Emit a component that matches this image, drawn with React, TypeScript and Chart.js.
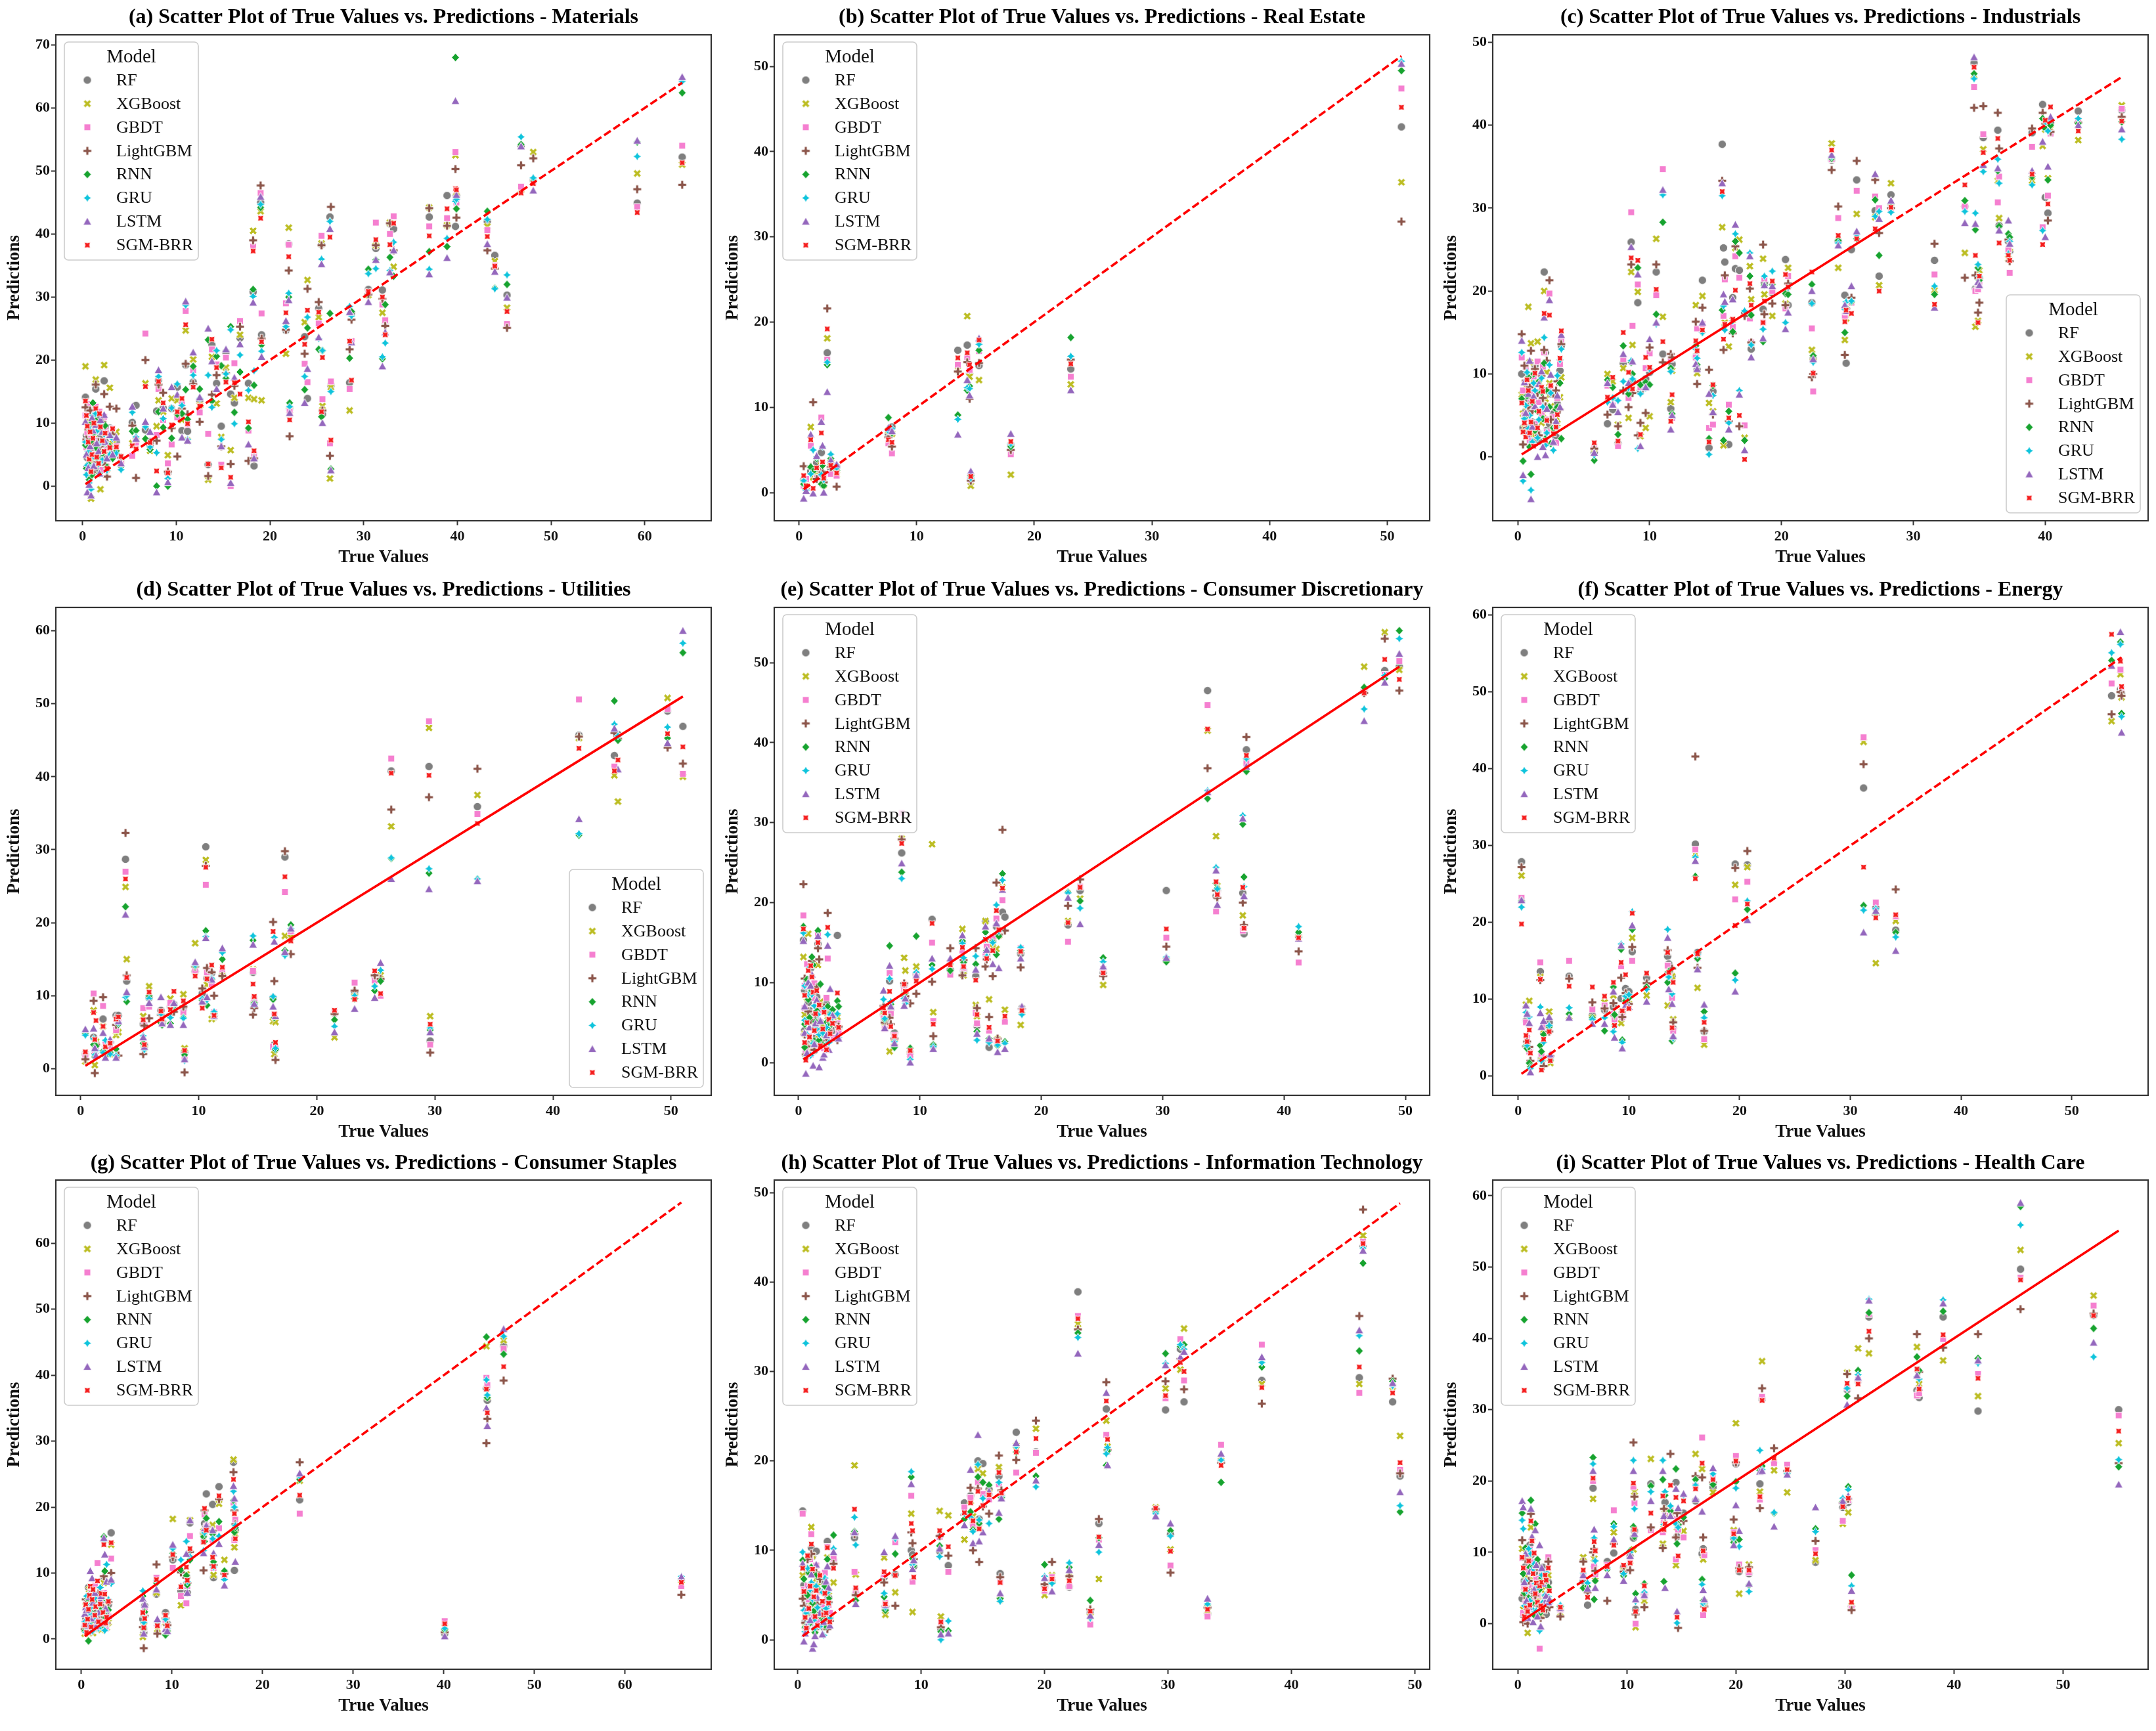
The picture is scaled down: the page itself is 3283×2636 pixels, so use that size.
import React, { useEffect, useRef } from 'react';
import { Chart, registerables } from 'chart.js';

Chart.register(...registerables);

// ---------------- data ----------------
const MODELS = ['RF', 'XGBoost', 'GBDT', 'LightGBM', 'RNN', 'GRU', 'LSTM', 'SGM-BRR'];
const COLORS = ['#7f7f7f', '#bcbd22', '#f57fd0', '#8c564b', '#17a32f', '#0fc4dc', '#9467bd', '#f51d1d'];
const SHAPES = ['circle', 'xfill', 'square', 'plusfill', 'diamond', 'star4', 'triangle', 'star4x'];

const LETTERS = ['a', 'b', 'c', 'd', 'e', 'f', 'g', 'h', 'i'];
const SECTORS = ['Materials', 'Real Estate', 'Industrials', 'Utilities', 'Consumer Discretionary', 'Energy', 'Consumer Staples', 'Information Technology', 'Health Care'];
const X_RANGES = [[-2.86, 67.1], [-2.1, 53.6], [-1.9, 47.8], [-2.1, 53.4], [-2.0, 52.0], [-2.3, 56.9], [-2.8, 69.5], [-1.9, 51.2], [-2.3, 57.8]];
const Y_RANGES = [[-5.5, 71.6], [-3.3, 53.7], [-7.7, 50.9], [-3.65, 63.2], [-4.1, 56.9], [-2.5, 61.0], [-4.6, 69.6], [-3.3, 51.4], [-6.4, 62.2]];
const TICK_STEP = 10;
const LEGEND_POS = ['ul', 'ul', 'lr', 'lr', 'ul', 'ul', 'ul', 'ul', 'ul'];
// true-value spans where the y = x reference line looks solid (elsewhere dashed)
const SOLID_SPANS = [[], [], [[0, 28]], [[0, 70]], [[0, 70]], [], [[0, 17]], [], [[0, 2], [7, 70]]];

// rows: [true, RF, XGBoost, GBDT, LightGBM, RNN, GRU, LSTM, SGM-BRR]
const materialsRows = [
  [0.3, 14.1, 19.0, 11.2, 12.5, 6.5, 7.0, 10.2, 13.5],
  [0.4, 8.0, 10.5, 6.2, 7.4, 2.8, 1.8, 5.0, 11.2],
  [0.5, 4.5, 6.0, 8.5, 3.0, 5.0, 3.3, -1.0, 9.5],
  [0.6, 11.8, 2.5, 13.0, 9.0, 3.5, 5.5, 2.9, 7.0],
  [0.7, 2.0, 3.0, 4.8, 1.5, 1.0, 0.5, 0.2, 4.3],
  [0.8, 3.2, 5.1, 1.9, 12.0, 9.8, 9.0, 6.3, 8.6],
  [0.9, 6.5, -2.0, 7.5, 5.8, 7.2, -0.5, -1.5, 2.3],
  [1.0, 5.4, 4.0, 9.6, 2.2, 1.8, 2.9, 10.8, 5.0],
  [1.1, 9.0, 8.0, 10.5, 9.5, 13.2, 11.2, 8.8, 7.6],
  [1.2, 12.0, 7.5, 5.0, 6.6, 8.4, 4.6, 3.2, 10.0],
  [1.4, 15.4, 16.9, 12.6, 16.1, 10.4, 11.5, 9.7, 12.3],
  [1.5, 2.6, 9.8, 7.2, 3.8, 6.0, 8.7, 6.8, 4.6],
  [1.7, 5.0, 6.3, 3.8, 7.0, 4.2, 3.5, 5.5, 3.6],
  [1.8, 10.6, 3.5, 11.8, 8.9, 2.0, 10.0, 2.0, 11.5],
  [1.9, 7.8, -0.5, 9.3, 6.3, 8.7, 6.8, 10.5, 9.4],
  [2.1, 4.0, 6.9, 2.6, 10.2, 5.2, 4.1, 8.6, 7.2],
  [2.3, 16.7, 19.2, 11.0, 14.6, 6.9, 8.2, 11.3, 5.5],
  [2.4, 7.1, 5.3, 8.8, 3.4, 9.6, 6.9, 7.0, 8.4],
  [2.6, 4.8, 2.7, 6.0, 1.5, 3.0, 2.5, 4.4, 2.8],
  [2.9, 9.2, 15.6, 8.4, 12.6, 6.3, 5.0, 8.1, 6.1],
  [3.2, 5.9, 6.7, 9.1, 8.2, 4.4, 7.5, 5.0, 9.1],
  [3.6, 7.0, 8.6, 6.3, 12.3, 5.6, 5.2, 7.7, 6.2],
  [4.1, 3.8, 4.2, 3.5, 4.5, 3.1, 2.6, 3.6, 4.7],
  [5.3, 10.1, 6.8, 4.8, 9.6, 8.7, 11.7, 12.6, 6.4],
  [5.7, 12.8, 7.2, 6.9, 1.3, 8.8, 7.8, 7.5, 5.9],
  [6.7, 8.9, 16.3, 24.2, 20.0, 7.5, 9.4, 10.2, 15.8],
  [7.2, 6.5, 5.6, 7.2, 6.9, 5.8, 6.2, 8.6, 6.9],
  [7.9, 11.9, 9.5, 8.1, 7.2, 0.0, 5.3, -1.0, 2.4],
  [8.1, 16.8, 13.6, 15.4, 16.1, 11.8, 17.4, 18.4, 16.6],
  [8.6, 12.4, 11.8, 10.5, 14.8, 9.3, 10.7, 12.3, 13.2],
  [9.1, 2.1, 4.9, 3.6, 2.3, 0.0, 1.2, 0.6, 2.1],
  [9.5, 12.3, 13.9, 6.6, 9.2, 7.6, 12.4, 15.7, 9.7],
  [10.1, 15.7, 13.6, 10.9, 4.7, 11.4, 16.2, 14.5, 11.8],
  [10.6, 8.8, 10.5, 13.0, 12.3, 11.5, 12.8, 7.7, 13.9],
  [11.0, 19.2, 24.7, 27.8, 19.4, 15.3, 28.7, 29.3, 25.6],
  [11.2, 8.7, 7.2, 9.8, 11.4, 10.6, 7.4, 7.2, 9.9],
  [11.8, 16.5, 20.1, 18.4, 16.2, 19.0, 17.6, 21.2, 15.7],
  [12.5, 13.6, 12.8, 11.7, 10.2, 15.4, 13.9, 14.1, 12.7],
  [13.4, 3.4, 1.0, 8.3, 1.6, 23.2, 17.6, 25.0, 3.5],
  [13.8, 22.4, 20.5, 21.7, 14.5, 13.5, 12.5, 19.8, 23.3],
  [14.3, 16.3, 13.1, 19.3, 17.6, 20.6, 21.5, 15.4, 18.8],
  [14.8, 9.5, 7.8, 3.4, 6.3, 19.1, 7.4, 6.3, 2.9],
  [15.3, 21.2, 18.8, 20.4, 17.9, 17.1, 17.8, 21.7, 16.5],
  [15.8, 14.6, 5.7, 0.0, 3.5, 25.3, 24.8, 0.5, 1.4],
  [16.2, 13.2, 14.0, 19.5, 15.9, 11.7, 9.9, 17.2, 16.4],
  [16.8, 23.5, 24.0, 26.2, 25.3, 18.1, 20.8, 22.5, 14.6],
  [17.7, 16.3, 14.0, 8.8, 4.0, 9.2, 15.2, 6.6, 10.2],
  [18.2, 30.8, 40.5, 38.0, 39.0, 31.2, 30.1, 29.1, 37.3],
  [18.3, 3.2, 13.8, 5.0, 4.4, 16.0, 18.3, 4.4, 5.6],
  [19.0, 45.0, 43.6, 46.5, 47.7, 44.2, 44.7, 45.9, 42.5],
  [19.1, 24.0, 13.6, 27.4, 23.4, 22.4, 21.4, 20.5, 22.9],
  [21.7, 24.7, 21.0, 29.0, 24.8, 25.8, 25.3, 26.2, 27.5],
  [22.0, 38.4, 41.0, 38.3, 34.2, 30.0, 30.6, 29.5, 36.4],
  [22.1, 12.3, 12.0, 11.8, 7.9, 13.2, 12.6, 11.6, 10.5],
  [23.7, 23.7, 26.0, 19.4, 21.0, 15.3, 17.4, 13.2, 22.5],
  [24.0, 13.9, 32.7, 16.5, 31.3, 25.1, 26.8, 18.6, 27.9],
  [25.2, 28.2, 26.8, 25.8, 29.2, 21.7, 23.4, 23.6, 27.6],
  [25.5, 38.3, 38.5, 39.7, 38.2, 11.0, 36.0, 35.2, 11.8],
  [25.6, 11.4, 12.7, 13.8, 12.0, 21.5, 21.5, 10.0, 20.4],
  [26.4, 42.7, 1.2, 6.8, 4.8, 27.4, 42.0, 40.8, 39.5],
  [26.5, 16.0, 15.7, 16.6, 44.3, 2.7, 15.0, 2.5, 7.3],
  [28.5, 16.4, 12.0, 15.4, 21.7, 20.3, 28.5, 27.6, 23.0],
  [28.7, 27.5, 23.0, 23.0, 26.4, 27.7, 27.0, 22.8, 16.8],
  [30.5, 31.2, 30.3, 30.7, 30.4, 34.4, 33.7, 29.2, 30.9],
  [31.3, 37.7, 38.2, 41.8, 38.2, 35.9, 34.5, 35.9, 39.1],
  [32.0, 31.1, 27.5, 28.8, 29.7, 20.2, 20.5, 19.0, 30.0],
  [32.3, 26.0, 26.3, 26.3, 25.4, 28.8, 22.7, 24.4, 24.0],
  [32.8, 41.6, 41.8, 40.0, 41.7, 36.3, 34.2, 33.9, 38.3],
  [33.2, 40.8, 34.8, 42.8, 37.4, 33.3, 38.7, 37.4, 41.7],
  [37.0, 42.7, 44.2, 41.2, 44.1, 37.2, 34.4, 33.6, 39.7],
  [38.9, 46.1, 41.4, 42.5, 41.3, 38.0, 39.3, 36.2, 44.0],
  [39.8, 41.2, 52.5, 53.0, 50.3, 68.0, 45.2, 61.1, 47.2],
  [39.9, 46.1, 46.0, 45.0, 42.6, 44.0, 45.5, 46.2, 47.0],
  [43.2, 42.0, 41.2, 40.6, 37.4, 43.6, 42.3, 38.4, 39.6],
  [44.0, 36.6, 35.7, 35.0, 34.5, 31.4, 31.3, 34.0, 34.9],
  [45.3, 30.3, 28.3, 25.7, 25.1, 32.0, 33.5, 29.9, 27.7],
  [46.8, 54.0, 47.0, 47.5, 50.9, 54.2, 55.4, 53.9, 46.5],
  [48.1, 48.5, 53.0, 48.2, 52.0, 48.4, 48.9, 46.9, 48.0],
  [59.2, 44.9, 49.6, 44.3, 47.1, 54.6, 52.3, 54.8, 43.4],
  [64.0, 52.2, 51.0, 54.0, 47.8, 62.4, 64.2, 64.9, 51.3],
];

const realEstateRows = [
  [0.4, 1.5, 1.2, 0.8, 3.1, 1.0, 1.4, -0.7, 2.0],
  [0.6, 0.5, 0.9, 1.6, 0.4, 0.7, 0.3, 0.2, 0.8],
  [1.0, 2.5, 7.7, 5.5, 3.0, 3.0, 2.2, 6.8, 6.2],
  [1.2, 2.0, 1.8, 2.7, 10.6, 2.5, 5.0, -0.1, 0.5],
  [1.5, 3.5, 2.4, 1.7, 1.6, 4.0, 4.2, 4.3, 2.9],
  [1.9, 4.7, 3.2, 8.8, 2.5, 1.0, 2.1, 8.3, 7.0],
  [2.0, 2.2, 1.5, 3.4, 2.4, 3.2, 5.4, 5.5, 3.6],
  [2.1, 1.3, 0.9, 1.8, 1.2, 0.8, 1.5, 0.0, 1.7],
  [2.4, 16.4, 18.1, 15.6, 21.6, 15.0, 15.3, 11.8, 19.2],
  [2.7, 2.8, 3.5, 2.2, 3.0, 4.0, 4.5, 3.8, 3.2],
  [3.2, 3.0, 2.1, 2.0, 0.7, 2.6, 2.9, 3.3, 2.3],
  [7.6, 6.8, 7.3, 5.8, 6.5, 8.8, 7.2, 7.6, 6.2],
  [7.9, 7.7, 6.9, 4.6, 5.4, 7.0, 7.5, 7.2, 5.9],
  [13.5, 16.7, 14.4, 15.0, 14.2, 9.1, 8.6, 6.8, 15.8],
  [14.3, 17.3, 20.7, 15.9, 15.3, 12.0, 12.3, 13.2, 16.4],
  [14.5, 14.0, 13.6, 14.4, 11.0, 12.5, 12.2, 11.4, 15.0],
  [14.6, 1.8, 0.8, 1.5, 1.4, 2.0, 1.7, 2.5, 1.9],
  [15.3, 14.9, 13.2, 16.6, 15.2, 16.7, 17.4, 18.1, 17.9],
  [18.0, 5.6, 2.1, 4.5, 5.0, 5.4, 5.7, 6.9, 6.0],
  [23.1, 14.5, 12.7, 13.6, 15.6, 18.2, 16.0, 12.0, 15.1],
  [51.2, 42.9, 36.4, 47.4, 31.8, 49.5, 50.6, 50.3, 45.2],
];

const industrialsRows = [
  [0.3, 10.0, 7.5, 12.0, 14.8, 7.0, 12.6, 14.0, 6.5],
  [0.4, 3.5, 5.2, 8.0, 1.5, -0.5, -2.9, -2.2, 3.0],
  [0.5, 6.8, 3.5, 5.0, 11.0, 2.9, 4.6, 9.0, 4.1],
  [0.6, 5.5, 8.5, 10.8, 9.2, 4.8, 6.2, 5.3, 2.4],
  [0.7, 2.6, 6.0, 9.2, 3.5, 7.4, 10.2, 2.7, 9.3],
  [0.8, 7.0, 18.1, 4.6, 6.0, 9.6, 3.4, 7.6, 8.0],
  [0.9, 9.5, 11.4, 2.0, 8.4, 1.2, 5.0, 11.6, 2.9],
  [1.0, 2.0, 13.7, 6.5, 12.8, -2.1, -4.0, -5.1, 4.2],
  [1.1, 4.2, 2.7, 7.9, 5.5, 6.6, 1.8, 3.6, 6.7],
  [1.2, 8.8, 9.3, 9.7, 3.8, 10.0, 8.9, 7.3, 1.3],
  [1.3, 11.0, 7.6, 4.0, 10.6, 3.2, 8.0, 6.1, 10.1],
  [1.5, 3.0, 13.9, 11.5, 7.7, 5.5, 2.3, 0.0, 3.5],
  [1.6, 1.9, 9.0, 6.6, 2.6, 9.1, 4.5, 8.8, 5.5],
  [1.8, 6.8, 4.1, 5.2, 9.8, 7.8, 9.5, 10.3, 8.4],
  [1.9, 8.0, 5.2, 10.9, 7.1, 4.6, 6.0, 1.2, 7.9],
  [2.0, 22.3, 20.0, 12.6, 12.9, 11.3, 14.4, 16.8, 17.3],
  [2.1, 12.6, 7.0, 4.5, 6.1, 2.2, 1.4, 0.2, 2.0],
  [2.2, 3.2, 10.2, 3.0, 11.6, 8.0, 2.9, 5.8, 4.4],
  [2.4, 4.0, 8.9, 19.7, 21.3, 6.0, 11.1, 18.9, 17.1],
  [2.5, 7.6, 6.1, 8.3, 4.5, 1.6, 7.7, 9.9, 8.6],
  [2.7, 5.2, 3.4, 4.8, 7.6, 3.5, 0.8, 1.8, 2.8],
  [2.9, 2.4, 4.8, 1.7, 8.0, 5.7, 3.6, 4.3, 3.6],
  [3.0, 6.4, 4.0, 7.1, 9.1, 6.0, 9.8, 7.4, 5.1],
  [3.2, 10.4, 7.2, 11.2, 5.7, 8.9, 11.7, 6.0, 11.9],
  [3.3, 13.4, 9.6, 14.0, 13.6, 2.2, 13.0, 14.7, 15.2],
  [5.8, 0.5, 1.0, 1.2, 1.0, -0.4, 0.2, 0.5, 1.7],
  [6.8, 4.0, 10.0, 8.6, 5.1, 9.3, 6.6, 8.9, 7.2],
  [7.2, 5.7, 9.1, 6.2, 7.0, 8.4, 7.1, 6.3, 9.6],
  [7.6, 1.6, 3.9, 1.3, 3.7, 2.7, 6.8, 5.4, 1.9],
  [8.0, 11.3, 10.7, 11.8, 8.0, 13.4, 9.1, 12.4, 15.0],
  [8.4, 8.3, 4.7, 7.1, 6.0, 7.6, 8.3, 8.9, 10.2],
  [8.6, 25.9, 22.3, 29.5, 23.2, 11.4, 11.6, 25.3, 24.0],
  [8.7, 9.1, 13.5, 15.8, 7.7, 10.0, 9.4, 11.5, 8.2],
  [9.1, 18.6, 19.9, 20.8, 2.6, 22.8, 1.0, 22.0, 23.7],
  [9.3, 8.0, 2.5, 8.4, 4.1, 8.7, 7.6, 1.3, 2.7],
  [9.7, 9.4, 3.5, 10.7, 5.3, 9.0, 8.3, 8.4, 12.0],
  [10.0, 10.2, 4.9, 12.5, 13.2, 8.7, 10.6, 14.2, 10.8],
  [10.5, 22.3, 26.3, 19.5, 23.2, 17.2, 16.0, 16.2, 20.2],
  [11.0, 12.4, 16.9, 34.7, 11.4, 28.3, 31.6, 32.2, 13.9],
  [11.6, 5.8, 6.6, 11.8, 12.4, 10.7, 10.3, 3.3, 4.3],
  [11.7, 11.2, 10.4, 4.7, 12.0, 5.2, 4.8, 5.0, 7.5],
  [13.5, 12.1, 18.3, 12.0, 16.3, 13.4, 13.0, 11.2, 14.0],
  [13.6, 10.5, 10.1, 15.5, 8.8, 11.1, 11.9, 10.6, 12.8],
  [14.0, 21.3, 19.4, 16.0, 18.0, 15.0, 15.0, 16.2, 15.3],
  [14.5, 1.1, 6.5, 3.5, 10.5, 2.2, 0.3, 7.6, 1.8],
  [14.8, 7.9, 5.5, 3.9, 5.1, 8.6, 7.4, 5.4, 8.7],
  [15.5, 37.7, 27.7, 33.0, 33.3, 17.7, 31.5, 33.0, 32.0],
  [15.6, 25.2, 1.4, 17.0, 12.9, 2.0, 18.2, 19.6, 14.2],
  [15.7, 23.5, 16.2, 21.4, 21.9, 15.8, 15.3, 18.7, 16.0],
  [16.0, 1.5, 13.3, 6.3, 4.3, 5.5, 4.1, 3.3, 4.7],
  [16.3, 19.2, 16.5, 15.7, 14.9, 15.1, 16.4, 19.0, 16.6],
  [16.5, 22.7, 25.2, 24.2, 25.4, 26.0, 26.9, 28.0, 20.1],
  [16.8, 22.5, 26.2, 21.6, 3.7, 24.6, 8.0, 7.5, 5.0],
  [17.2, 17.4, 2.3, 3.8, 17.0, 2.0, 17.6, 0.8, -0.3],
  [17.6, 17.1, 23.0, 16.7, 20.3, 21.8, 24.6, 24.2, 20.9],
  [17.7, 13.0, 19.0, 13.8, 13.8, 17.1, 13.5, 12.0, 18.3],
  [18.6, 17.8, 23.9, 16.2, 25.6, 13.9, 15.4, 14.3, 16.2],
  [18.7, 21.0, 19.6, 21.5, 17.2, 20.7, 21.8, 20.7, 18.8],
  [19.3, 19.8, 17.0, 20.0, 18.5, 20.8, 22.4, 20.6, 21.2],
  [20.3, 23.8, 18.5, 17.9, 18.3, 19.7, 16.2, 15.4, 22.0],
  [20.5, 18.3, 22.8, 21.8, 20.9, 19.6, 20.4, 17.4, 20.5],
  [22.3, 18.6, 12.9, 15.5, 9.6, 20.8, 18.5, 20.0, 22.3],
  [22.4, 11.8, 12.0, 7.9, 10.0, 12.2, 11.4, 11.8, 10.1],
  [23.8, 35.8, 37.8, 35.9, 34.6, 36.0, 36.2, 36.4, 37.0],
  [24.3, 26.0, 22.8, 28.8, 30.2, 26.1, 25.8, 25.5, 26.7],
  [24.8, 19.5, 14.1, 17.0, 12.3, 15.0, 17.8, 18.3, 16.3],
  [24.9, 11.3, 16.7, 17.5, 17.9, 18.0, 18.7, 17.6, 17.7],
  [25.3, 25.0, 18.9, 18.6, 19.2, 18.7, 18.8, 20.6, 17.3],
  [25.7, 33.4, 29.3, 32.1, 35.7, 26.3, 26.8, 27.2, 26.3],
  [27.1, 29.7, 28.9, 31.4, 33.4, 31.0, 29.0, 34.1, 27.5],
  [27.4, 21.8, 20.7, 30.0, 27.0, 24.3, 29.6, 28.7, 20.0],
  [28.3, 31.6, 33.0, 29.8, 30.0, 30.4, 29.5, 30.9, 30.1],
  [31.6, 23.7, 20.1, 22.0, 25.7, 19.6, 20.6, 18.0, 18.4],
  [33.9, 30.2, 24.6, 30.2, 21.6, 30.9, 29.6, 28.2, 32.8],
  [34.6, 47.5, 46.0, 44.6, 42.1, 46.2, 45.6, 48.2, 47.0],
  [34.7, 20.3, 15.7, 20.0, 21.9, 27.4, 29.4, 28.1, 24.3],
  [34.9, 20.5, 16.4, 20.2, 17.4, 22.8, 23.2, 21.1, 16.2],
  [35.0, 21.5, 22.5, 21.0, 18.6, 21.3, 21.8, 20.7, 21.8],
  [35.3, 38.5, 37.1, 38.9, 42.3, 35.0, 34.4, 35.2, 36.7],
  [36.4, 39.4, 33.3, 30.7, 41.5, 34.5, 35.9, 34.8, 38.4],
  [36.5, 27.9, 28.8, 33.8, 37.2, 27.8, 33.0, 27.3, 25.8],
  [37.2, 26.0, 23.9, 25.0, 26.2, 26.9, 24.5, 28.5, 24.3],
  [37.3, 24.8, 25.2, 22.2, 23.6, 26.5, 26.0, 25.7, 23.7],
  [39.0, 39.1, 33.3, 37.4, 39.6, 33.8, 32.8, 34.5, 34.1],
  [39.8, 42.5, 37.5, 27.7, 41.5, 40.8, 27.3, 38.0, 25.6],
  [40.0, 31.3, 39.5, 40.0, 40.2, 39.6, 40.4, 26.5, 40.6],
  [40.2, 29.4, 33.6, 31.5, 28.5, 33.4, 39.3, 35.0, 30.5],
  [40.4, 40.3, 39.6, 39.0, 39.2, 40.0, 40.6, 41.0, 42.2],
  [42.5, 41.7, 38.2, 40.6, 40.3, 40.2, 40.8, 40.0, 39.3],
  [45.8, 41.8, 42.4, 42.0, 41.0, 40.4, 38.3, 39.5, 40.5],
];

const utilitiesRows = [
  [0.4, 2.0, 1.0, 1.8, 1.3, 4.8, 4.6, 5.4, 2.3],
  [1.1, 4.3, 8.0, 10.3, 9.3, 3.3, 4.1, 5.5, 7.7],
  [1.2, 2.2, 0.5, 2.6, -0.6, 1.6, 1.9, 2.8, 4.0],
  [1.3, 3.4, 3.7, 3.0, 3.3, 3.1, 2.5, 1.8, 6.6],
  [1.9, 6.8, 5.8, 8.6, 9.8, 2.4, 2.2, 4.9, 5.8],
  [2.1, 3.1, 2.6, 3.3, 2.1, 1.7, 3.9, 1.5, 3.0],
  [2.5, 2.4, 2.0, 2.8, 3.6, 2.2, 2.0, 4.0, 3.5],
  [3.0, 7.3, 4.6, 5.3, 6.0, 2.7, 1.8, 1.5, 6.8],
  [3.2, 7.3, 5.0, 6.5, 1.8, 6.1, 6.3, 6.5, 7.1],
  [3.8, 28.7, 24.9, 27.0, 32.3, 22.2, 9.8, 21.1, 26.0],
  [3.9, 12.0, 15.0, 12.6, 12.8, 9.2, 10.0, 10.5, 12.5],
  [5.3, 6.1, 7.2, 8.3, 2.0, 3.5, 4.5, 4.3, 6.7],
  [5.4, 3.2, 2.8, 6.0, 5.9, 2.9, 2.6, 3.0, 3.3],
  [5.8, 9.7, 11.3, 8.5, 6.9, 10.0, 9.6, 9.0, 10.5],
  [6.8, 8.0, 7.0, 6.5, 7.4, 6.3, 7.5, 9.8, 7.9],
  [6.9, 6.2, 6.8, 7.1, 6.5, 6.0, 6.6, 6.2, 6.8],
  [7.6, 8.5, 9.6, 9.0, 7.4, 6.2, 7.0, 6.0, 8.1],
  [7.9, 8.8, 8.2, 8.1, 7.8, 8.6, 8.8, 9.0, 10.6],
  [8.7, 8.2, 10.2, 7.7, 8.5, 7.0, 6.9, 6.0, 9.3],
  [8.8, 2.2, 2.8, 1.6, -0.5, 1.9, 1.1, 1.3, 2.5],
  [9.7, 13.3, 17.2, 13.5, 14.0, 14.1, 14.2, 14.6, 12.7],
  [10.3, 10.3, 9.1, 9.3, 11.0, 9.4, 9.6, 9.2, 8.3],
  [10.6, 30.4, 28.6, 25.2, 27.8, 18.9, 18.1, 17.9, 27.6],
  [10.7, 12.4, 11.5, 13.2, 13.8, 8.7, 9.4, 9.8, 12.3],
  [11.1, 13.1, 6.8, 11.6, 13.2, 12.2, 12.4, 12.2, 14.2],
  [11.3, 7.3, 7.1, 7.7, 10.0, 7.6, 7.8, 7.2, 7.3],
  [12.0, 12.8, 12.9, 13.6, 12.7, 15.0, 15.9, 16.5, 13.9],
  [14.6, 13.2, 13.6, 13.4, 7.4, 17.6, 18.2, 17.0, 11.6],
  [14.7, 9.1, 9.4, 9.6, 8.3, 9.0, 8.8, 8.9, 9.9],
  [16.3, 9.7, 6.5, 3.0, 20.1, 9.5, 9.9, 8.5, 18.8],
  [16.4, 3.3, 2.0, 7.4, 12.0, 7.0, 18.0, 17.4, 7.5],
  [16.5, 2.7, 6.4, 2.9, 1.2, 2.6, 2.8, 7.2, 3.6],
  [17.3, 29.0, 18.2, 24.2, 29.8, 16.2, 15.5, 16.0, 26.3],
  [17.8, 18.3, 18.0, 18.8, 15.7, 19.7, 19.2, 19.2, 17.5],
  [21.5, 7.6, 4.3, 7.8, 7.5, 6.7, 5.8, 5.0, 8.0],
  [23.2, 10.5, 9.9, 11.8, 10.7, 9.6, 10.0, 8.2, 9.5],
  [24.9, 12.6, 11.6, 12.1, 12.8, 10.7, 11.3, 9.7, 13.4],
  [25.4, 12.3, 12.8, 10.0, 12.3, 12.0, 13.5, 14.5, 10.3],
  [26.3, 40.8, 33.2, 42.5, 35.5, 28.8, 28.9, 26.0, 40.5],
  [29.5, 41.4, 46.7, 47.6, 37.2, 26.8, 27.4, 24.6, 40.2],
  [29.6, 3.8, 7.2, 3.3, 2.2, 5.3, 5.6, 5.0, 6.1],
  [33.6, 35.9, 37.5, 34.9, 41.1, 26.0, 26.0, 25.7, 33.6],
  [42.2, 45.7, 45.3, 50.6, 45.5, 32.0, 32.2, 34.2, 43.9],
  [45.2, 42.9, 40.2, 41.4, 46.0, 50.4, 47.2, 46.6, 40.8],
  [45.5, 45.8, 36.6, 45.5, 45.2, 45.0, 45.6, 41.0, 42.3],
  [49.7, 49.0, 50.8, 49.3, 44.0, 45.3, 46.8, 44.6, 45.9],
  [51.0, 46.9, 40.0, 40.4, 41.8, 57.0, 58.3, 60.0, 44.1],
];

const consumerDiscRows = [
  [0.4, 15.3, 13.2, 18.4, 22.3, 17.0, 16.2, 15.2, 16.7],
  [0.5, 4.0, 6.0, 9.6, 3.5, 4.8, 5.3, 3.7, 2.5],
  [0.5, 9.0, 3.6, 6.8, 10.5, 1.9, 9.6, 7.0, 8.4],
  [0.6, 1.2, 2.0, 1.5, 1.0, 0.8, 0.5, -1.4, 0.3],
  [0.7, 2.3, 8.1, 12.3, 2.0, 10.4, 3.5, 1.2, 5.0],
  [0.8, 7.5, 16.1, 8.2, 6.4, 7.9, 8.5, 10.0, 11.5],
  [0.9, 6.5, 1.5, 3.3, 8.8, 5.6, 11.9, 4.4, 3.2],
  [1.0, 11.8, 9.5, 1.0, 5.3, 8.9, 0.9, 9.6, 12.1],
  [1.1, 9.6, 12.5, 8.1, 12.7, 13.2, 8.5, 11.0, 10.7],
  [1.2, 3.1, 2.6, 5.3, 4.4, 12.2, 2.4, -0.4, 8.8],
  [1.3, 1.5, 5.9, 9.9, 1.6, 2.7, 7.1, 2.3, 4.0],
  [1.4, 5.6, 4.5, 6.2, 6.0, 5.1, 4.6, 4.9, 6.1],
  [1.5, 8.2, 2.2, 3.9, 9.4, 6.5, 4.2, 7.8, 9.0],
  [1.6, 14.8, 12.2, 16.0, 14.3, 16.5, 6.0, 15.8, 15.0],
  [1.7, 2.5, 3.0, 2.1, 12.9, 2.8, 3.5, -0.6, 7.2],
  [1.8, 5.0, 7.6, 6.6, 4.0, 9.8, 2.1, 5.2, 2.1],
  [2.0, 3.6, 4.7, 3.5, 2.8, 2.2, 3.7, 0.6, 4.2],
  [2.1, 2.0, 3.9, 1.8, 6.9, 3.4, 6.6, 1.0, 6.3],
  [2.3, 7.3, 1.7, 8.1, 3.0, 5.0, 4.4, 3.4, 1.6],
  [2.4, 6.1, 5.8, 13.0, 18.7, 7.0, 16.0, 14.6, 16.9],
  [2.5, 3.3, 2.9, 4.1, 4.0, 4.5, 2.5, 1.6, 5.4],
  [2.6, 5.0, 6.0, 5.5, 5.6, 6.1, 6.0, 9.2, 3.6],
  [2.8, 4.0, 6.4, 3.1, 5.1, 6.6, 5.7, 5.9, 4.9],
  [3.2, 15.9, 5.7, 4.9, 2.8, 7.7, 6.1, 3.4, 8.7],
  [3.3, 4.3, 3.8, 3.9, 4.5, 7.0, 3.1, 3.0, 4.4],
  [7.0, 6.0, 6.3, 5.6, 7.1, 6.5, 7.9, 9.0, 6.8],
  [7.1, 4.9, 4.6, 4.2, 5.0, 5.4, 5.5, 4.3, 6.2],
  [7.5, 10.2, 1.4, 11.2, 5.6, 14.6, 10.5, 12.1, 8.9],
  [7.6, 6.7, 7.0, 6.1, 4.8, 7.3, 7.6, 7.0, 4.5],
  [7.9, 3.7, 2.5, 3.4, 3.0, 1.9, 2.6, 2.4, 3.3],
  [8.5, 26.2, 28.0, 31.2, 27.9, 23.8, 23.0, 24.9, 27.4],
  [8.7, 9.5, 13.1, 9.2, 9.9, 8.6, 8.0, 7.1, 9.8],
  [8.8, 8.1, 11.5, 8.8, 8.3, 8.7, 7.4, 8.0, 8.9],
  [9.2, 1.2, 1.0, 0.9, 7.4, 1.8, 0.4, 0.0, 1.5],
  [9.7, 11.0, 12.0, 10.7, 8.6, 15.8, 11.3, 10.9, 10.2],
  [11.0, 17.9, 27.3, 15.0, 10.1, 12.2, 11.7, 13.0, 17.4],
  [11.1, 2.1, 6.3, 5.2, 3.3, 2.2, 2.0, 1.7, 4.8],
  [12.5, 11.6, 12.5, 11.0, 14.3, 11.5, 12.4, 13.0, 12.2],
  [13.5, 15.0, 16.7, 14.0, 10.9, 15.2, 14.9, 15.9, 14.4],
  [13.6, 11.5, 10.9, 11.8, 12.8, 12.5, 13.1, 12.0, 12.0],
  [14.6, 10.8, 7.2, 6.2, 14.3, 12.3, 13.3, 11.6, 10.3],
  [14.7, 4.6, 5.8, 4.9, 6.8, 3.9, 2.8, 3.6, 6.0],
  [15.4, 17.6, 17.7, 13.5, 12.0, 16.3, 15.4, 17.0, 15.4],
  [15.5, 13.4, 14.7, 14.5, 12.9, 14.0, 13.3, 14.1, 13.0],
  [15.7, 1.9, 7.9, 4.0, 5.7, 3.0, 2.5, 3.0, 4.4],
  [16.0, 15.2, 14.4, 15.7, 10.8, 15.1, 15.0, 12.3, 14.0],
  [16.3, 17.0, 14.2, 18.0, 22.5, 13.5, 19.7, 17.4, 19.0],
  [16.4, 2.5, 2.9, 2.4, 3.0, 2.1, 2.2, 1.3, 2.7],
  [16.5, 16.1, 15.9, 16.3, 16.0, 15.8, 16.4, 11.8, 16.6],
  [16.8, 18.8, 21.9, 20.3, 29.1, 23.6, 22.8, 21.6, 21.8],
  [17.0, 18.2, 6.6, 5.1, 16.5, 2.6, 2.4, 1.7, 5.8],
  [18.3, 13.6, 4.7, 14.3, 11.9, 14.0, 14.4, 13.0, 13.9],
  [18.4, 6.8, 6.3, 6.5, 6.7, 6.2, 6.0, 7.0, 6.5],
  [22.2, 17.2, 17.7, 15.1, 19.6, 21.3, 21.2, 20.6, 17.5],
  [23.2, 21.5, 20.5, 22.0, 22.9, 20.2, 19.3, 17.3, 21.9],
  [25.1, 11.3, 9.7, 11.7, 10.8, 13.1, 12.6, 12.0, 11.2],
  [30.3, 21.5, 12.8, 15.6, 14.5, 12.6, 13.2, 13.1, 16.7],
  [33.7, 46.5, 41.5, 44.7, 36.8, 33.0, 34.0, 33.8, 41.7],
  [34.4, 20.8, 28.3, 18.9, 21.5, 22.4, 24.4, 24.0, 22.6],
  [34.5, 21.5, 22.1, 21.3, 20.6, 21.8, 21.7, 19.7, 21.0],
  [36.6, 21.2, 18.4, 16.5, 20.0, 29.8, 30.9, 30.5, 21.9],
  [36.7, 16.1, 17.0, 16.8, 17.2, 23.2, 22.0, 20.8, 16.8],
  [36.9, 39.1, 37.6, 37.4, 40.7, 36.4, 38.0, 37.0, 38.4],
  [41.2, 15.8, 16.1, 12.5, 13.9, 16.3, 17.0, 15.5, 15.6],
  [46.6, 46.5, 49.5, 46.5, 46.2, 46.9, 44.2, 42.7, 46.2],
  [48.3, 49.0, 53.8, 48.5, 53.0, 48.0, 48.4, 47.5, 50.4],
  [49.5, 49.5, 49.1, 50.2, 46.5, 54.0, 53.0, 51.1, 47.9],
];

const energyRows = [
  [0.3, 27.9, 26.1, 23.2, 27.2, 22.8, 22.0, 22.9, 19.8],
  [0.7, 7.2, 9.3, 7.0, 3.9, 4.0, 8.3, 9.2, 5.3],
  [0.8, 4.4, 4.9, 5.0, 4.5, 3.6, 4.0, 8.1, 4.5],
  [1.0, 3.5, 9.8, 3.2, 3.8, 1.7, 7.7, 6.9, 6.0],
  [1.1, 1.8, 1.6, 1.4, 2.0, 1.2, 1.0, 0.5, 3.0],
  [2.0, 13.6, 12.9, 14.8, 12.5, 4.0, 9.0, 8.2, 12.6],
  [2.1, 2.3, 2.5, 2.9, 2.0, 3.2, 2.0, 6.4, 0.8],
  [2.3, 5.6, 6.0, 6.5, 1.3, 5.4, 4.4, 7.2, 4.8],
  [2.8, 7.0, 8.4, 6.2, 5.8, 6.4, 6.6, 7.7, 5.8],
  [2.9, 2.5, 1.7, 2.4, 2.6, 2.1, 2.3, 2.8, 2.0],
  [4.6, 13.0, 7.8, 15.0, 12.7, 8.1, 8.9, 7.6, 11.7],
  [6.7, 7.9, 7.6, 8.7, 9.6, 7.6, 7.4, 6.8, 11.6],
  [7.8, 8.6, 9.6, 9.2, 8.8, 5.9, 7.6, 6.8, 10.4],
  [8.6, 9.0, 10.5, 8.1, 9.5, 11.6, 5.8, 11.0, 12.2],
  [8.7, 7.6, 7.0, 7.3, 7.9, 8.0, 6.5, 5.0, 6.6],
  [9.3, 10.1, 6.9, 14.3, 12.8, 16.5, 17.2, 17.0, 14.8],
  [9.4, 8.2, 8.4, 7.7, 7.7, 4.7, 4.4, 3.6, 8.5],
  [9.7, 11.4, 10.5, 10.0, 10.8, 9.8, 10.4, 9.2, 13.2],
  [10.0, 11.0, 9.9, 9.0, 9.4, 10.2, 10.6, 9.0, 8.8],
  [10.3, 16.2, 18.0, 15.0, 16.8, 19.1, 21.4, 19.6, 21.2],
  [11.6, 12.8, 10.5, 11.7, 12.1, 11.6, 11.3, 9.7, 13.4],
  [13.5, 15.6, 9.2, 14.4, 16.4, 12.2, 19.1, 18.0, 16.1],
  [13.6, 14.6, 13.8, 13.2, 13.5, 13.6, 12.9, 11.3, 13.5],
  [13.9, 13.0, 13.0, 10.2, 14.0, 4.6, 10.7, 9.4, 6.3],
  [14.0, 6.2, 7.4, 5.9, 7.0, 5.0, 4.9, 5.2, 12.2],
  [16.0, 30.2, 28.9, 29.5, 41.6, 26.0, 28.5, 28.0, 25.7],
  [16.2, 16.1, 11.5, 15.4, 14.1, 15.3, 15.8, 13.9, 15.9],
  [16.8, 5.8, 4.1, 4.8, 5.9, 8.4, 7.6, 9.3, 7.0],
  [19.6, 27.6, 24.9, 23.0, 27.1, 13.4, 12.5, 11.0, 19.6],
  [20.7, 27.5, 27.2, 25.3, 29.3, 21.7, 22.8, 20.3, 22.4],
  [31.2, 37.5, 43.5, 44.1, 40.6, 22.2, 21.6, 18.7, 27.2],
  [32.3, 21.9, 14.7, 22.6, 21.0, 21.2, 21.8, 21.5, 20.6],
  [34.1, 19.0, 20.2, 20.8, 24.3, 18.7, 18.1, 16.3, 21.0],
  [53.6, 49.5, 46.2, 51.1, 47.1, 54.1, 55.1, 53.4, 57.5],
  [54.4, 50.3, 52.3, 52.9, 50.0, 56.5, 56.2, 57.8, 54.0],
  [54.5, 49.8, 49.3, 50.4, 49.5, 47.2, 46.8, 44.7, 50.7],
];

const consumerStaplesRows = [
  [0.4, 1.8, 0.8, 2.4, 1.5, 1.2, 2.6, 3.8, 2.1],
  [0.5, 3.0, 5.0, 1.3, 6.0, 2.5, 1.0, 4.8, 5.2],
  [0.6, 5.5, 4.2, 5.8, 3.5, 3.9, 6.5, 4.4, 1.0],
  [0.7, 1.0, 2.2, 4.2, 2.0, 6.1, 5.1, 1.1, 3.0],
  [0.8, 7.8, 3.0, 6.0, 6.5, -0.3, 3.2, 2.0, 4.5],
  [0.9, 6.0, 7.5, 2.0, 3.0, 1.7, 2.2, 6.4, 6.6],
  [1.0, 4.4, 5.5, 3.1, 4.8, 5.0, 4.7, 10.3, 8.0],
  [1.1, 2.2, 3.4, 7.0, 5.9, 4.0, 3.8, 3.1, 1.8],
  [1.2, 2.9, 1.0, 1.4, 2.2, 2.1, 1.2, 9.2, 6.0],
  [1.3, 5.0, 0.9, 3.6, 1.4, 7.2, 6.8, 5.5, 7.5],
  [1.5, 6.6, 6.0, 8.1, 7.0, 5.6, 6.2, 7.0, 3.6],
  [1.6, 1.6, 4.6, 5.2, 4.0, 2.5, 3.0, 1.9, 4.9],
  [1.8, 3.5, 2.3, 11.5, 4.2, 3.8, 5.0, 2.8, 8.8],
  [1.9, 4.6, 6.2, 2.8, 6.9, 5.0, 1.6, 4.0, 2.6],
  [2.1, 2.0, 4.0, 6.9, 3.2, 4.3, 7.8, 5.9, 5.3],
  [2.2, 3.0, 1.4, 5.5, 2.6, 1.9, 5.6, 6.5, 6.9],
  [2.4, 6.8, 3.7, 4.4, 4.9, 6.0, 4.1, 2.4, 4.0],
  [2.5, 9.0, 8.5, 7.0, 9.5, 15.5, 14.8, 15.3, 14.3],
  [2.6, 4.0, 3.1, 2.7, 3.3, 10.3, 1.3, 12.8, 6.8],
  [2.7, 2.0, 5.5, 1.6, 3.8, 3.2, 2.4, 4.6, 2.4],
  [2.8, 2.5, 1.7, 3.3, 2.4, 4.2, 11.3, 8.7, 3.3],
  [3.0, 5.2, 2.5, 3.4, 5.6, 4.4, 6.0, 3.5, 5.7],
  [3.3, 16.1, 14.3, 12.2, 10.0, 8.8, 8.4, 9.0, 14.6],
  [6.8, 3.0, 0.3, 4.0, 1.8, 6.5, 7.3, 6.1, 4.0],
  [6.9, 1.0, 2.0, 1.6, -1.4, 1.5, 2.5, 0.8, 1.7],
  [7.0, 5.0, 3.8, 4.2, 3.5, 4.1, 3.3, 5.2, 3.1],
  [8.3, 6.8, 7.0, 9.3, 11.3, 8.5, 8.8, 7.5, 9.0],
  [8.4, 2.0, 1.5, 2.2, 0.8, 2.6, 2.4, 3.0, 2.0],
  [9.3, 4.0, 2.5, 2.9, 3.1, 0.6, 3.0, 1.5, 3.6],
  [9.5, 2.3, 1.5, 1.8, 2.1, 1.2, 1.6, 1.2, 2.0],
  [10.1, 12.0, 18.2, 10.8, 12.4, 13.0, 13.7, 14.3, 12.8],
  [11.0, 7.3, 5.1, 6.5, 10.1, 10.5, 12.0, 8.0, 7.9],
  [11.6, 9.5, 9.8, 5.4, 9.3, 9.6, 14.8, 12.9, 10.9],
  [11.7, 7.0, 8.4, 8.0, 8.5, 8.2, 8.7, 7.0, 8.9],
  [12.0, 17.6, 18.0, 15.6, 13.2, 12.0, 12.5, 18.0, 13.7],
  [13.5, 16.0, 16.3, 14.8, 10.4, 15.5, 13.4, 13.0, 14.7],
  [13.6, 17.5, 19.2, 18.9, 19.5, 14.8, 16.1, 16.8, 19.8],
  [13.8, 22.0, 16.8, 17.1, 17.0, 18.3, 16.7, 17.2, 16.5],
  [14.5, 20.4, 17.3, 15.0, 16.4, 15.9, 15.2, 16.5, 12.4],
  [14.6, 9.3, 9.7, 10.8, 11.2, 11.7, 10.9, 13.0, 11.0],
  [15.2, 23.1, 20.5, 16.8, 21.2, 17.8, 15.6, 14.4, 21.7],
  [15.8, 10.1, 12.0, 9.4, 9.9, 10.3, 9.0, 8.1, 9.7],
  [16.8, 26.8, 27.2, 20.7, 25.3, 21.0, 22.4, 23.2, 24.2],
  [16.9, 10.4, 13.9, 15.0, 19.5, 16.2, 20.0, 21.3, 19.0],
  [17.0, 16.5, 15.9, 18.1, 17.4, 16.9, 17.2, 11.7, 15.2],
  [24.1, 21.1, 24.0, 19.0, 26.8, 24.2, 24.6, 25.1, 21.8],
  [40.1, 0.8, 1.8, 2.7, 1.0, 1.4, 1.6, 0.4, 2.3],
  [44.7, 38.0, 44.4, 39.6, 29.7, 45.8, 39.3, 35.0, 37.9],
  [44.8, 36.2, 36.7, 38.5, 33.4, 36.6, 37.0, 32.3, 34.3],
  [46.6, 44.4, 45.3, 44.0, 39.2, 43.2, 45.9, 47.0, 41.3],
  [66.2, 8.8, 8.3, 8.0, 6.7, 9.2, 9.5, 9.4, 8.6],
];

const infoTechRows = [
  [0.4, 14.4, 7.2, 14.1, 4.6, 8.9, 9.8, 8.5, 8.0],
  [0.5, 6.1, 5.0, 5.6, 3.8, 6.8, 3.3, -0.2, 5.4],
  [0.6, 2.0, 1.5, 2.8, 1.9, 1.4, 0.9, 0.7, 2.5],
  [0.7, 4.0, 3.6, 3.2, 2.8, 2.9, 3.0, 1.5, 1.3],
  [0.8, 7.6, 2.5, 6.0, 9.0, 5.0, 8.0, 3.5, 9.4],
  [0.9, 3.0, 8.0, 4.5, 1.7, 7.5, 2.0, 6.0, 3.5],
  [1.0, 5.5, 4.4, 9.0, 5.4, 1.9, 5.6, 2.2, 6.0],
  [1.1, 10.3, 12.6, 11.8, 9.6, 8.1, 6.4, 7.3, 10.7],
  [1.2, 9.3, 9.4, 7.6, 5.8, 4.1, 4.5, -1.0, 7.9],
  [1.3, 4.2, 3.5, 2.5, 3.1, 3.2, 2.2, -0.5, 4.8],
  [1.4, 1.8, 1.1, 1.6, 1.2, 0.8, 1.3, 0.4, 2.6],
  [1.5, 9.9, 6.8, 8.3, 7.5, 7.2, 6.0, 8.4, 5.5],
  [1.6, 2.7, 6.0, 2.0, 4.0, 5.7, 3.6, 4.7, 1.6],
  [1.8, 6.5, 3.0, 5.4, 6.8, 3.0, 1.5, 3.0, 7.2],
  [2.0, 3.5, 2.8, 3.8, 3.1, 2.4, 5.3, 0.6, 4.3],
  [2.1, 1.4, 2.3, 1.7, 2.6, 2.2, 0.5, 2.0, 2.8],
  [2.2, 4.0, 5.2, 7.5, 2.2, 6.0, 6.9, 4.4, 5.2],
  [2.3, 2.0, 1.4, 2.6, 5.0, 1.5, 3.5, 6.5, 3.0],
  [2.4, 11.0, 9.2, 10.4, 1.2, 9.0, 5.3, 8.2, 10.3],
  [2.5, 4.7, 5.4, 3.9, 4.2, 4.6, 4.0, 5.8, 4.1],
  [2.6, 2.5, 2.9, 3.0, 2.1, 2.3, 2.4, 1.6, 2.0],
  [2.9, 8.9, 6.4, 9.1, 8.5, 11.7, 10.2, 9.8, 8.0],
  [4.6, 11.4, 19.5, 7.6, 11.8, 12.1, 13.7, 12.0, 14.6],
  [4.7, 5.2, 7.3, 5.5, 5.0, 4.4, 10.6, 4.0, 5.8],
  [7.0, 7.0, 9.2, 7.3, 6.4, 4.8, 5.2, 9.8, 7.6],
  [7.1, 3.4, 2.8, 4.1, 3.7, 3.3, 3.6, 3.9, 4.0],
  [7.9, 7.3, 5.3, 10.9, 3.8, 9.6, 11.3, 11.6, 7.2],
  [9.2, 10.0, 14.1, 16.1, 12.0, 18.2, 18.8, 17.4, 13.0],
  [9.3, 9.5, 3.1, 6.5, 10.8, 9.1, 8.4, 7.9, 12.2],
  [9.4, 8.2, 8.6, 8.8, 9.0, 8.3, 8.6, 8.9, 7.0],
  [11.5, 9.9, 14.4, 11.5, 11.6, 10.5, 9.3, 10.2, 12.2],
  [11.6, 1.2, 2.6, 1.9, 1.4, 0.9, 0.0, 0.6, 2.0],
  [12.2, 8.3, 13.9, 7.6, 9.4, 1.0, 2.1, 0.7, 10.4],
  [13.5, 15.3, 11.2, 14.8, 14.0, 13.5, 14.1, 12.8, 14.2],
  [14.0, 16.1, 15.5, 15.9, 17.0, 14.3, 13.7, 19.0, 15.3],
  [14.2, 12.9, 13.8, 12.7, 10.0, 12.3, 12.1, 10.8, 13.3],
  [14.6, 20.0, 19.1, 17.6, 16.9, 18.2, 19.6, 22.9, 16.6],
  [14.7, 13.5, 12.6, 12.9, 8.7, 13.0, 13.4, 11.0, 12.4],
  [15.0, 19.7, 18.6, 16.3, 14.9, 17.6, 15.8, 12.0, 15.0],
  [15.5, 16.8, 16.4, 15.7, 14.1, 17.3, 13.0, 16.6, 16.2],
  [16.3, 18.3, 19.3, 17.4, 20.6, 13.5, 17.6, 14.2, 18.7],
  [16.4, 7.4, 4.5, 6.5, 7.0, 4.6, 4.3, 5.2, 6.4],
  [16.5, 16.0, 16.5, 16.2, 16.7, 15.9, 16.1, 15.8, 16.4],
  [17.7, 23.2, 21.7, 18.7, 20.1, 21.0, 21.6, 22.0, 21.0],
  [19.3, 21.0, 23.6, 20.9, 24.5, 18.3, 17.1, 17.8, 22.5],
  [20.0, 5.9, 5.0, 5.5, 6.2, 8.4, 7.1, 6.9, 5.7],
  [20.6, 6.6, 7.2, 7.0, 8.7, 6.4, 6.3, 5.4, 6.8],
  [22.0, 5.9, 7.0, 6.0, 7.1, 8.1, 8.6, 7.8, 6.6],
  [22.7, 38.9, 35.3, 36.2, 34.7, 34.3, 33.8, 32.0, 35.9],
  [23.7, 3.0, 2.6, 1.7, 3.4, 4.4, 2.4, 2.7, 3.2],
  [24.4, 13.0, 6.8, 11.2, 13.5, 11.4, 9.8, 10.6, 11.5],
  [25.0, 25.8, 24.5, 22.9, 28.8, 19.5, 20.8, 27.6, 26.7],
  [25.1, 21.3, 21.6, 21.0, 21.2, 21.1, 21.5, 19.5, 22.4],
  [29.0, 14.6, 14.8, 14.5, 14.6, 14.3, 14.1, 13.8, 14.7],
  [29.8, 25.7, 28.1, 27.0, 28.9, 32.0, 30.9, 30.7, 27.3],
  [30.2, 11.8, 10.1, 8.3, 7.5, 12.2, 11.6, 13.0, 9.9],
  [31.0, 32.5, 30.2, 33.6, 31.4, 32.8, 33.0, 31.6, 31.0],
  [31.3, 26.6, 34.8, 29.0, 28.0, 33.0, 32.5, 32.2, 30.0],
  [33.2, 2.9, 3.2, 2.6, 3.6, 3.9, 4.0, 4.6, 3.4],
  [34.3, 20.0, 20.0, 21.8, 19.8, 17.6, 20.1, 20.8, 19.5],
  [37.6, 29.0, 28.6, 33.0, 26.4, 30.5, 31.0, 31.6, 28.2],
  [45.5, 29.3, 28.6, 27.6, 36.2, 32.3, 34.0, 34.6, 30.5],
  [45.8, 44.0, 45.2, 44.5, 48.1, 42.1, 43.8, 43.5, 44.3],
  [48.2, 26.6, 28.3, 28.5, 29.2, 28.9, 28.4, 28.7, 27.6],
  [48.8, 18.3, 22.8, 19.0, 18.6, 14.3, 15.0, 16.5, 19.8],
];

const healthCareRows = [
  [0.4, 3.5, 10.5, 9.2, 11.7, 15.5, 14.5, 17.2, 9.3],
  [0.5, 1.2, 2.0, 1.5, 0.2, 7.0, 13.3, 16.3, 7.8],
  [0.6, 6.0, 4.5, 5.2, 4.0, 4.3, 2.5, 5.8, 1.0],
  [0.7, 8.0, 6.8, 2.8, 9.0, 10.6, 6.0, 9.8, 4.8],
  [0.8, 2.5, 3.1, 3.9, 2.7, 2.0, 4.6, 3.2, 2.2],
  [0.9, 1.0, -1.3, 0.5, 0.0, 1.4, 1.2, 0.8, 1.7],
  [1.0, 5.0, 9.1, 7.4, 6.0, 3.6, 10.5, 2.3, 8.8],
  [1.1, 11.0, 3.5, 10.4, 2.9, 7.9, 3.2, 7.3, 2.6],
  [1.2, 9.6, 13.5, 8.6, 15.4, 17.3, 9.8, 16.1, 14.4],
  [1.3, 4.8, 6.2, 5.4, 4.4, 2.9, 7.5, 12.2, 11.6],
  [1.4, 3.1, 2.5, 3.4, 2.6, 8.0, 1.9, 0.2, 7.0],
  [1.5, 2.0, 7.8, 1.7, 7.5, 1.2, 8.4, 4.8, 9.9],
  [1.6, 7.1, 6.0, 5.0, 3.9, 14.0, 5.6, 13.1, 4.2],
  [1.7, 8.5, 4.0, 6.3, 1.8, 5.5, 1.8, 8.2, 5.7],
  [1.8, 3.6, 1.0, 4.0, 5.2, 9.0, 5.0, 1.0, 3.0],
  [2.0, 5.5, 3.7, -3.5, 2.4, 4.8, -1.0, 11.0, 5.3],
  [2.1, 2.3, 1.3, 1.9, 0.8, 1.6, 2.0, -0.4, 2.5],
  [2.2, 6.7, 5.2, 7.2, 6.3, 6.4, 6.8, 7.8, 5.8],
  [2.3, 7.9, 5.9, 2.4, 7.0, 2.2, 3.0, 5.6, 1.9],
  [2.5, 4.0, 4.2, 3.8, 3.2, 3.9, 4.0, 3.0, 6.8],
  [2.6, 1.3, 3.0, 5.6, 2.0, 6.1, 7.2, 3.9, 6.1],
  [2.8, 5.8, 6.8, 9.3, 8.7, 5.1, 3.8, 3.0, 7.8],
  [2.9, 3.0, 2.8, 2.5, 2.3, 3.3, 2.9, 3.4, 4.6],
  [3.9, 1.9, 1.5, 2.0, 1.0, 2.4, 2.6, 2.2, 2.3],
  [6.0, 6.0, 9.3, 6.6, 8.7, 5.0, 7.1, 6.8, 7.5],
  [6.4, 2.6, 4.9, 4.6, 4.4, 5.2, 5.7, 4.9, 3.7],
  [6.9, 19.0, 17.5, 20.0, 10.0, 23.3, 22.4, 21.4, 20.4],
  [7.0, 8.0, 9.1, 8.0, 10.5, 3.4, 12.0, 13.2, 11.5],
  [7.1, 7.2, 6.6, 6.9, 7.4, 6.0, 8.8, 5.0, 10.2],
  [8.2, 8.7, 8.1, 8.2, 3.2, 7.6, 7.8, 6.8, 8.0],
  [8.8, 9.9, 12.8, 15.9, 11.2, 14.0, 13.6, 11.8, 11.0],
  [9.7, 7.9, 7.4, 7.1, 7.3, 6.7, 7.0, 6.0, 8.2],
  [10.3, 9.4, 8.8, 9.0, 7.5, 10.2, 10.0, 9.5, 8.5],
  [10.6, 12.0, 10.4, 19.2, 25.4, 13.6, 22.9, 21.4, 19.7],
  [10.7, 13.0, 18.5, 16.9, 17.8, 12.2, 16.1, 12.6, 13.2],
  [10.8, 2.0, -0.5, 0.0, 1.3, 4.2, 3.1, 3.4, 1.7],
  [11.6, 4.1, 3.2, 3.9, 2.3, 5.6, 4.4, 4.0, 5.3],
  [12.2, 19.6, 23.1, 13.1, 13.5, 19.3, 18.5, 17.2, 15.5],
  [13.3, 13.0, 11.2, 12.8, 10.6, 20.2, 22.9, 21.4, 17.9],
  [13.4, 14.2, 13.9, 14.5, 16.1, 5.9, 13.9, 15.1, 13.2],
  [13.5, 17.0, 16.0, 15.2, 15.0, 18.0, 18.5, 5.0, 14.0],
  [14.0, 15.1, 15.3, 16.0, 23.8, 15.8, 16.5, 15.1, 19.4],
  [14.5, 19.8, 8.2, 9.0, 12.1, 21.7, 14.0, 18.9, 17.7],
  [14.6, 12.2, 13.5, 14.7, 15.5, 11.2, 0.1, 1.7, 0.9],
  [14.7, 13.8, 13.8, 13.2, -0.6, 13.9, 13.5, 16.2, 9.5],
  [15.2, 15.5, 13.0, 12.1, 14.4, 14.9, 18.0, 18.2, 17.2],
  [16.3, 17.2, 23.8, 19.3, 20.7, 20.2, 19.4, 17.5, 18.9],
  [16.9, 9.8, 21.7, 26.1, 20.5, 6.2, 5.5, 15.7, 22.5],
  [17.0, 10.5, 9.0, 1.2, 12.1, 3.2, 2.8, 4.7, 10.2],
  [17.1, 2.8, 3.0, 9.6, 2.4, 2.9, 3.1, 3.4, 2.0],
  [17.9, 19.1, 18.4, 20.4, 19.8, 19.5, 21.0, 21.8, 20.2],
  [19.8, 12.0, 13.1, 12.8, 14.6, 11.4, 12.0, 11.0, 12.6],
  [20.0, 22.4, 28.1, 23.5, 22.6, 19.9, 19.0, 16.6, 22.8],
  [20.3, 7.3, 4.2, 8.3, 7.8, 11.8, 10.8, 13.0, 7.5],
  [21.2, 7.0, 8.3, 7.2, 7.9, 5.4, 4.5, 5.6, 7.5],
  [22.2, 19.6, 18.5, 17.4, 16.2, 21.5, 24.3, 21.3, 17.8],
  [22.4, 31.5, 36.8, 31.8, 33.0, 22.1, 21.6, 21.4, 31.3],
  [23.5, 22.6, 21.5, 22.5, 24.6, 15.5, 15.6, 13.6, 23.2],
  [24.7, 21.2, 18.4, 22.3, 21.4, 21.0, 21.1, 20.9, 21.6],
  [27.3, 8.6, 8.9, 10.3, 11.6, 13.3, 12.9, 16.3, 9.8],
  [29.8, 16.3, 14.0, 14.4, 16.9, 17.1, 17.6, 17.2, 16.4],
  [30.2, 32.8, 35.2, 33.1, 35.0, 31.9, 33.0, 30.7, 33.7],
  [30.3, 17.0, 15.6, 17.3, 17.5, 19.2, 18.8, 17.9, 17.6],
  [30.6, 2.4, 2.5, 2.1, 1.9, 6.8, 5.3, 4.6, 3.0],
  [31.2, 34.0, 38.6, 34.2, 31.6, 35.5, 34.9, 34.5, 33.6],
  [32.2, 43.0, 37.9, 43.4, 40.0, 43.6, 45.5, 45.3, 41.0],
  [36.6, 32.7, 38.8, 32.0, 40.6, 37.4, 34.6, 34.8, 35.7],
  [36.8, 31.7, 33.6, 32.3, 35.3, 35.5, 34.3, 33.1, 32.9],
  [39.0, 43.0, 36.9, 39.9, 38.7, 43.8, 45.4, 44.9, 40.5],
  [42.2, 29.8, 31.9, 35.0, 40.6, 37.2, 36.5, 36.9, 34.4],
  [46.1, 49.7, 52.4, 48.5, 44.1, 58.5, 55.9, 59.0, 48.2],
  [52.8, 43.2, 46.0, 44.6, 43.5, 41.4, 37.4, 39.4, 43.2],
  [55.1, 30.0, 25.3, 29.2, 22.5, 22.0, 23.0, 19.5, 27.0],
];

const PANEL_ROWS = [materialsRows, realEstateRows, industrialsRows, utilitiesRows, consumerDiscRows, energyRows, consumerStaplesRows, infoTechRows, healthCareRows];

// ---------------- layout ----------------
const CELL_W = 1094;
const CELL_H = 878;
const ROW_GEOM = [
  { top: 53, bottom: 793, titleY: 27, xTitlePad: 13 },
  { top: 47, bottom: 790, titleY: 21, xTitlePad: 16 },
  { top: 41, bottom: 786, titleY: 16, xTitlePad: 20 },
];
const FONT = '"Liberation Serif", "Times New Roman", serif';

// ---------------- markers ----------------
let markerCache: HTMLCanvasElement[] | null = null;
function getMarkers(): HTMLCanvasElement[] {
  if (markerCache) return markerCache;
  const S = 13;
  const dim = 19;
  markerCache = SHAPES.map((shape, i) => {
    const c = document.createElement('canvas');
    c.width = dim;
    c.height = dim;
    const ctx = c.getContext('2d') as CanvasRenderingContext2D;
    const cx = dim / 2, cy = dim / 2, r = S / 2;
    const poly = (pts: number[][]) => {
      ctx.moveTo(cx + pts[0][0], cy + pts[0][1]);
      for (let k = 1; k < pts.length; k++) ctx.lineTo(cx + pts[k][0], cy + pts[k][1]);
      ctx.closePath();
    };
    const star = (rot: number) => {
      const pts: number[][] = [];
      for (let k = 0; k < 8; k++) {
        const a = -Math.PI / 2 + rot + (k * Math.PI) / 4;
        const rr = k % 2 === 0 ? r : r * 0.52;
        pts.push([rr * Math.cos(a), rr * Math.sin(a)]);
      }
      poly(pts);
    };
    ctx.beginPath();
    if (shape === 'circle') {
      ctx.arc(cx, cy, r * 0.95, 0, Math.PI * 2);
    } else if (shape === 'square') {
      const h = (r / Math.SQRT2) * 1.08;
      ctx.rect(cx - h, cy - h, 2 * h, 2 * h);
    } else if (shape === 'diamond') {
      poly([[0, -r], [r * 0.9, 0], [0, r], [-r * 0.9, 0]]);
    } else if (shape === 'triangle') {
      poly([[0, -r], [r, r * 0.8], [-r, r * 0.8]]);
    } else if (shape === 'xfill') {
      const v = [[-1, -2], [0, -1], [1, -2], [2, -1], [1, 0], [2, 1], [1, 2], [0, 1], [-1, 2], [-2, 1], [-1, 0], [-2, -1]];
      poly(v.map(p => [(p[0] * S) / 4.4, (p[1] * S) / 4.4]));
    } else if (shape === 'plusfill') {
      const v = [[-1, -3], [1, -3], [1, -1], [3, -1], [3, 1], [1, 1], [1, 3], [-1, 3], [-1, 1], [-3, 1], [-3, -1], [-1, -1]];
      poly(v.map(p => [(p[0] * S) / 6, (p[1] * S) / 6]));
    } else if (shape === 'star4') {
      star(0);
    } else if (shape === 'star4x') {
      star(Math.PI / 4);
    }
    ctx.fillStyle = COLORS[i];
    ctx.fill();
    ctx.lineWidth = 1;
    ctx.strokeStyle = '#ffffff';
    ctx.lineJoin = 'miter';
    ctx.stroke();
    return c;
  });
  return markerCache;
}

function tickValues(min: number, max: number): { value: number }[] {
  const out: { value: number }[] = [];
  for (let v = Math.ceil(min / TICK_STEP) * TICK_STEP; v <= max + 1e-9; v += TICK_STEP) out.push({ value: v });
  return out;
}

// ---------------- chart ----------------
function buildConfig(idx: number): any {
  const rows = PANEL_ROWS[idx];
  const rowIdx = Math.floor(idx / 3);
  const geom = ROW_GEOM[rowIdx];
  const markers = getMarkers();
  const title = `(${LETTERS[idx]}) Scatter Plot of True Values vs. Predictions - ${SECTORS[idx]}`;
  const legendPos = LEGEND_POS[idx];

  const xs = rows.map(r => r[0]);
  const xmin = Math.min(...xs);
  const xmax = Math.max(...xs);
  const spans = SOLID_SPANS[idx];
  const breaks = [xmin, xmax];
  spans.forEach(s => {
    s.forEach(b => { if (b > xmin && b < xmax) breaks.push(b); });
  });
  breaks.sort((a, b) => a - b);
  const linePts = breaks.map(b => ({ x: b, y: b }));
  const solidSeg = breaks.slice(0, -1).map((b, k) => {
    const mid = (b + breaks[k + 1]) / 2;
    return spans.some(s => mid >= s[0] && mid <= s[1]);
  });

  const datasets: any[] = [
    {
      type: 'line',
      label: 'y=x',
      data: linePts,
      borderColor: '#ff0000',
      borderWidth: 3.6,
      borderDash: [12, 5],
      pointRadius: 0,
      fill: false,
      tension: 0,
      order: 0,
      segment: {
        borderDash: (ctx: any) => (solidSeg[ctx.p0DataIndex] ? [] : [12, 5]),
      },
    },
  ];
  MODELS.forEach((m, mi) => {
    datasets.push({
      type: 'scatter',
      label: m,
      data: rows.map(r => ({ x: r[0], y: r[mi + 1] })),
      pointStyle: markers[mi],
      pointRadius: 6,
      pointHoverRadius: 6,
      backgroundColor: COLORS[mi],
      borderColor: '#ffffff',
      showLine: false,
      order: MODELS.length - mi,
    });
  });

  const decor = {
    id: 'decor' + idx,
    afterDraw(chart: any) {
      const { ctx, chartArea: a } = chart;
      ctx.save();
      // frame
      ctx.lineWidth = 2.2;
      ctx.strokeStyle = '#333333';
      ctx.strokeRect(a.left, a.top, a.right - a.left, a.bottom - a.top);
      // title
      ctx.fillStyle = '#000000';
      ctx.font = `bold 32px ${FONT}`;
      ctx.textAlign = 'center';
      ctx.textBaseline = 'middle';
      ctx.fillText(title, (a.left + a.right) / 2, geom.titleY);
      // legend
      const w = 204, h = 332;
      const x0 = legendPos === 'ul' ? a.left + 13 : a.right - 12 - w;
      const y0 = legendPos === 'ul' ? a.top + 11 : a.bottom - 12 - h;
      const rr = 6;
      ctx.beginPath();
      ctx.moveTo(x0 + rr, y0);
      ctx.lineTo(x0 + w - rr, y0);
      ctx.arcTo(x0 + w, y0, x0 + w, y0 + rr, rr);
      ctx.lineTo(x0 + w, y0 + h - rr);
      ctx.arcTo(x0 + w, y0 + h, x0 + w - rr, y0 + h, rr);
      ctx.lineTo(x0 + rr, y0 + h);
      ctx.arcTo(x0, y0 + h, x0, y0 + h - rr, rr);
      ctx.lineTo(x0, y0 + rr);
      ctx.arcTo(x0, y0, x0 + rr, y0, rr);
      ctx.closePath();
      ctx.fillStyle = 'rgba(255,255,255,0.8)';
      ctx.fill();
      ctx.lineWidth = 1.6;
      ctx.strokeStyle = '#cccccc';
      ctx.stroke();
      ctx.fillStyle = '#111111';
      ctx.font = `29px ${FONT}`;
      ctx.textAlign = 'center';
      ctx.fillText('Model', x0 + w / 2, y0 + 23);
      ctx.font = `26px ${FONT}`;
      ctx.textAlign = 'left';
      MODELS.forEach((m, mi) => {
        const yy = y0 + 58 + mi * 35.9;
        const mk = markers[mi];
        ctx.drawImage(mk, x0 + 35 - mk.width / 2, yy - mk.height / 2);
        ctx.fillText(m, x0 + 79, yy + 1);
      });
      ctx.restore();
    },
  };

  const tickFont = { family: FONT, size: 22, weight: 'bold' as const };
  const titleFont = { family: FONT, size: 27, weight: 'bold' as const, lineHeight: 1.2 };
  const xr = X_RANGES[idx];
  const yr = Y_RANGES[idx];

  return {
    type: 'scatter',
    data: { datasets },
    plugins: [decor],
    options: {
      responsive: false,
      maintainAspectRatio: false,
      animation: false,
      devicePixelRatio: 1,
      events: [],
      layout: { padding: { top: geom.top, right: 11, bottom: 0, left: 0 } },
      plugins: {
        legend: { display: false },
        tooltip: { enabled: false },
        title: { display: false },
      },
      scales: {
        x: {
          type: 'linear',
          position: 'bottom',
          min: xr[0],
          max: xr[1],
          afterFit: (s: any) => { s.height = CELL_H - geom.bottom; },
          afterBuildTicks: (s: any) => { s.ticks = tickValues(xr[0], xr[1]); },
          ticks: { autoSkip: false, maxRotation: 0, font: tickFont, color: '#111111', padding: 4 },
          grid: { display: true, drawOnChartArea: false, drawTicks: true, tickLength: 7, tickWidth: 2, tickColor: '#333333' },
          border: { display: false },
          title: { display: true, text: 'True Values', font: titleFont, color: '#111111', padding: { top: 0, bottom: geom.xTitlePad } },
        },
        y: {
          type: 'linear',
          position: 'left',
          min: yr[0],
          max: yr[1],
          afterFit: (s: any) => { s.width = 85; },
          afterBuildTicks: (s: any) => { s.ticks = tickValues(yr[0], yr[1]); },
          ticks: { autoSkip: false, font: tickFont, color: '#111111', padding: 2 },
          grid: { display: true, drawOnChartArea: false, drawTicks: true, tickLength: 7, tickWidth: 2, tickColor: '#333333' },
          border: { display: false },
          title: { display: true, text: 'Predictions', font: titleFont, color: '#111111', padding: { top: 6, bottom: 0 } },
        },
      },
    },
  };
}

function Panel({ idx }: { idx: number }) {
  const ref = useRef<HTMLCanvasElement | null>(null);
  useEffect(() => {
    if (!ref.current) return;
    const chart = new Chart(ref.current, buildConfig(idx));
    return () => chart.destroy();
  }, [idx]);
  const row = Math.floor(idx / 3);
  const col = idx % 3;
  return (
    <canvas
      ref={ref}
      width={CELL_W}
      height={CELL_H}
      style={{ position: 'absolute', left: col * CELL_W, top: row * CELL_H, width: CELL_W, height: CELL_H, display: 'block' }}
    />
  );
}

export default function App() {
  return (
    <div style={{ position: 'absolute', left: 0, top: 0, width: 3283, height: 2636, background: '#ffffff', overflow: 'hidden' }}>
      {PANEL_ROWS.map((_, i) => (
        <Panel key={i} idx={i} />
      ))}
    </div>
  );
}
